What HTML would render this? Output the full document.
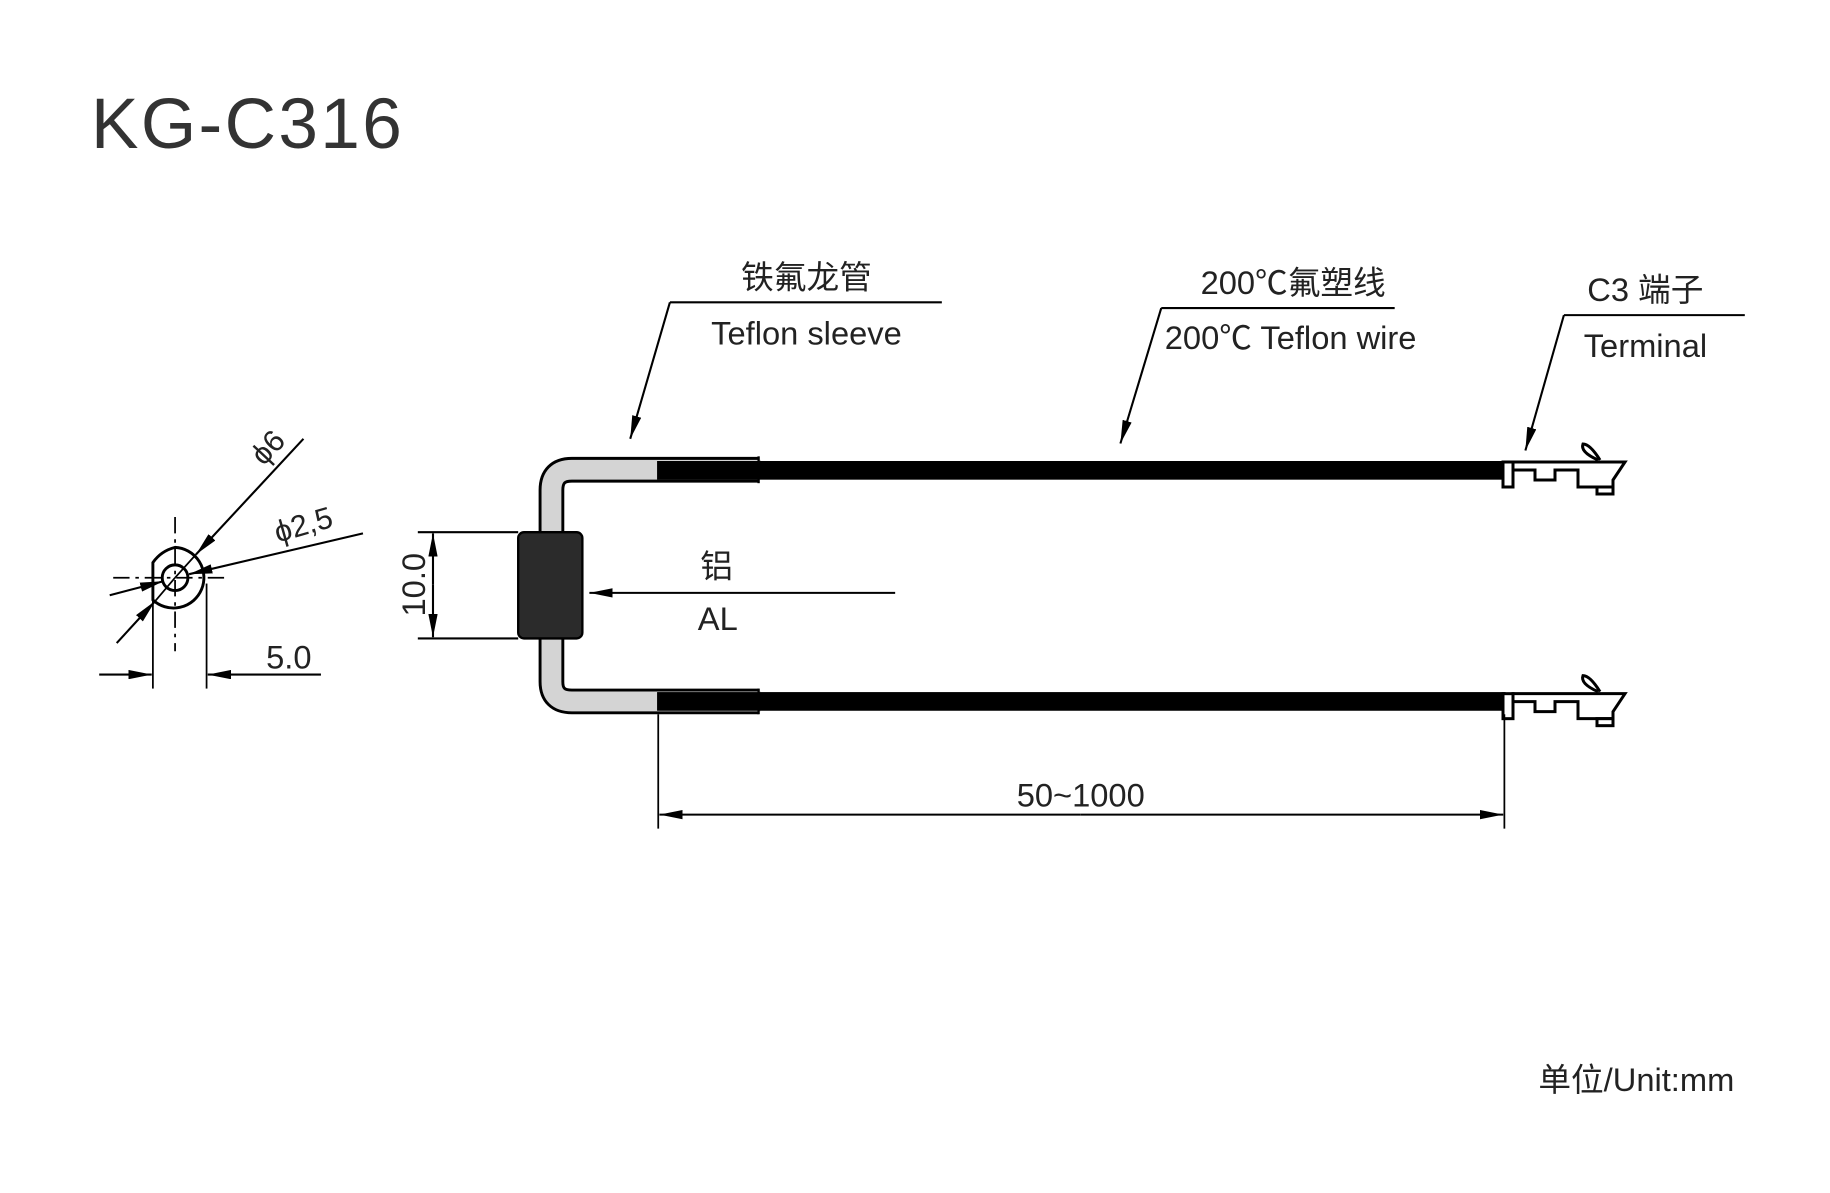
<!DOCTYPE html>
<html><head><meta charset="utf-8"><style>
html,body{margin:0;padding:0;background:#fff;}
svg{display:block;}
text{font-family:"Liberation Sans","Noto Sans CJK SC",sans-serif;fill:#222;}
</style></head><body>
<svg width="1830" height="1193" viewBox="0 0 1568 1022.2" xmlns="http://www.w3.org/2000/svg">
<defs>
<marker id="ah" viewBox="0 0 20 8" refX="20" refY="4" markerWidth="20" markerHeight="8" markerUnits="userSpaceOnUse" orient="auto"><path d="M0,0 L20,4 L0,8 z" fill="#000"/></marker>
</defs>
<text x="78" y="127" font-size="61" letter-spacing="2" style="fill:#333">KG-C316</text>

<!-- tube U -->
<path d="M650,402.5 L490,402.5 Q472.5,402.5 472.5,420 L472.5,584 Q472.5,601 490,601 L650,601" fill="none" stroke="#000" stroke-width="22"/>
<path d="M652,402.5 L490,402.5 Q472.5,402.5 472.5,420 L472.5,584 Q472.5,601 490,601 L652,601" fill="none" stroke="#d4d4d4" stroke-width="17"/>
<line x1="650" y1="391" x2="650" y2="414" stroke="#000" stroke-width="2"/>
<line x1="650" y1="590" x2="650" y2="612" stroke="#000" stroke-width="2"/>
<rect x="563" y="395" width="727" height="16" fill="#000"/>
<rect x="563" y="593" width="727" height="16" fill="#000"/>

<!-- AL block -->
<rect x="444" y="456" width="55" height="91" rx="5" fill="#2b2b2b" stroke="#000" stroke-width="2"/>
<line x1="358" y1="456" x2="444" y2="456" stroke="#000" stroke-width="1.8"/>
<line x1="358" y1="547" x2="444" y2="547" stroke="#000" stroke-width="1.8"/>
<line x1="371" y1="501" x2="371" y2="457" stroke="#000" stroke-width="1.8" marker-end="url(#ah)"/>
<line x1="371" y1="501" x2="371" y2="546" stroke="#000" stroke-width="1.8" marker-end="url(#ah)"/>
<text transform="translate(364,501) rotate(-90)" font-size="28" text-anchor="middle">10.0</text>
<line x1="767" y1="508" x2="505" y2="508" stroke="#000" stroke-width="1.8" marker-end="url(#ah)"/>
<text x="614" y="495" font-size="28" text-anchor="middle">铝</text>
<text x="615" y="540" font-size="28" text-anchor="middle">AL</text>

<!-- leaders -->
<polyline points="807,259 574,259" fill="none" stroke="#000" stroke-width="1.8"/>
<line x1="574" y1="259" x2="540" y2="376" stroke="#000" stroke-width="1.8" marker-end="url(#ah)"/>
<text x="691" y="247" font-size="28" text-anchor="middle">铁氟龙管</text>
<text x="691" y="295" font-size="28" text-anchor="middle">Teflon sleeve</text>

<line x1="1195" y1="264" x2="995" y2="264" stroke="#000" stroke-width="1.8"/>
<line x1="995" y1="264" x2="960" y2="380" stroke="#000" stroke-width="1.8" marker-end="url(#ah)"/>
<text x="1108" y="252" font-size="28" text-anchor="middle">200℃氟塑线</text>
<text x="998" y="299" font-size="28">200℃ Teflon wire</text>

<line x1="1495" y1="270" x2="1340" y2="270" stroke="#000" stroke-width="1.8"/>
<line x1="1340" y1="270" x2="1307" y2="386" stroke="#000" stroke-width="1.8" marker-end="url(#ah)"/>
<text x="1360" y="258" font-size="28">C3 端子</text>
<text x="1357" y="306" font-size="28">Terminal</text>

<!-- terminals -->
<g transform="scale(0.85683)" fill="#fff" stroke="#000" stroke-width="3">
<rect x="1503" y="462" width="10" height="25"/>
<path d="M1513,462 L1613,462 L1625,462 L1613,480 L1613,487 L1578,487 L1578,470 L1555,470 L1555,480 L1535,480 L1535,470 L1513,470 z"/>
<rect x="1597" y="487" width="16" height="7"/>
<path d="M1598,460 Q1580,452 1583,444 Q1590,444 1600,460" fill="#fff"/>
</g>
<g transform="translate(0,198.5)">
<g transform="scale(0.85683)" fill="#fff" stroke="#000" stroke-width="3">
<rect x="1503" y="462" width="10" height="25"/>
<path d="M1513,462 L1613,462 L1625,462 L1613,480 L1613,487 L1578,487 L1578,470 L1555,470 L1555,480 L1535,480 L1535,470 L1513,470 z"/>
<rect x="1597" y="487" width="16" height="7"/>
<path d="M1598,460 Q1580,452 1583,444 Q1590,444 1600,460" fill="#fff"/>
</g></g>

<!-- 50~1000 -->
<line x1="564" y1="612" x2="564" y2="710" stroke="#000" stroke-width="1.5"/>
<line x1="1289" y1="612" x2="1289" y2="710" stroke="#000" stroke-width="1.5"/>
<line x1="926" y1="698" x2="565" y2="698" stroke="#000" stroke-width="1.8" marker-end="url(#ah)"/>
<line x1="926" y1="698" x2="1288" y2="698" stroke="#000" stroke-width="1.8" marker-end="url(#ah)"/>
<text x="926" y="691" font-size="28" text-anchor="middle">50~1000</text>

<!-- cross-section -->
<line x1="150" y1="443" x2="150" y2="558" stroke="#000" stroke-width="1.5" stroke-dasharray="14,5,3,5"/>
<line x1="97" y1="495" x2="196" y2="495" stroke="#000" stroke-width="1.5" stroke-dasharray="14,5,3,5"/>
<path d="M131,482 Q138,472 150,469 A26,26 0 1 1 131,514 Z" fill="none" stroke="#000" stroke-width="2.5"/>
<circle cx="150" cy="495" r="11" fill="none" stroke="#000" stroke-width="2.5"/>
<line x1="131" y1="512" x2="131" y2="590" stroke="#000" stroke-width="1.5"/>
<line x1="177" y1="500" x2="177" y2="590" stroke="#000" stroke-width="1.5"/>
<line x1="85" y1="578" x2="130" y2="578" stroke="#000" stroke-width="1.8" marker-end="url(#ah)"/>
<line x1="275" y1="578" x2="178" y2="578" stroke="#000" stroke-width="1.8" marker-end="url(#ah)"/>
<text x="228" y="573" font-size="28">5.0</text>
<line x1="260" y1="376" x2="168" y2="475" stroke="#000" stroke-width="1.8" marker-end="url(#ah)"/>
<line x1="150" y1="495" x2="168" y2="475" stroke="#000" stroke-width="1.5"/>
<line x1="311" y1="457" x2="162" y2="492" stroke="#000" stroke-width="1.8" marker-end="url(#ah)"/>
<line x1="94" y1="510" x2="140" y2="498" stroke="#000" stroke-width="1.8" marker-end="url(#ah)"/>
<line x1="100" y1="551" x2="133" y2="515" stroke="#000" stroke-width="1.8" marker-end="url(#ah)"/>
<line x1="133" y1="515" x2="150" y2="495" stroke="#000" stroke-width="1.5"/>
<text transform="translate(226,400) rotate(-47)" font-size="26">ϕ6</text>
<text transform="translate(238,465) rotate(-16)" font-size="26">ϕ2,5</text>

<text x="1486" y="935" font-size="28" text-anchor="end">单位/Unit:mm</text>
</svg>
</body></html>
